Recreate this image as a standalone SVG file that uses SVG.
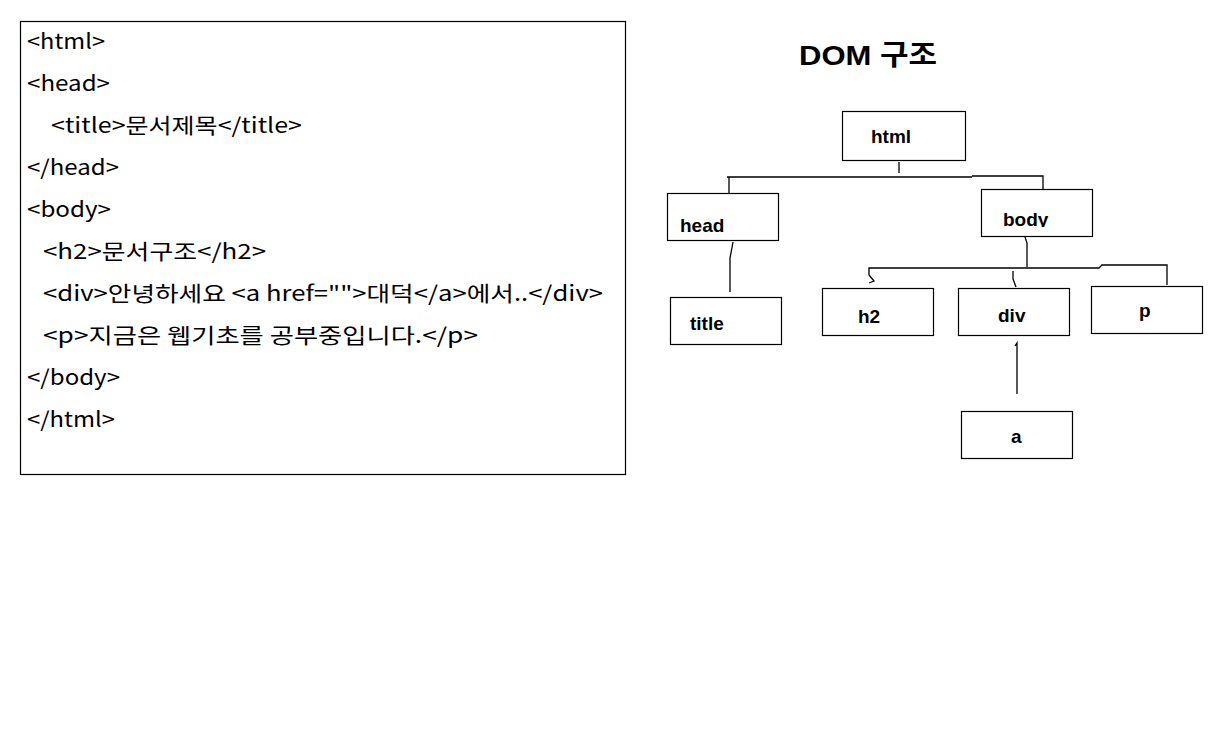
<svg xmlns="http://www.w3.org/2000/svg" width="1217" height="737" viewBox="0 0 1217 737">
<defs>
<style>
.code{font-family:"Noto Sans CJK KR","Noto Sans",sans-serif;font-size:21px;fill:#000}
.box{fill:#fff;stroke:#000;stroke-width:1.2}
.lbl{font-family:"Liberation Sans",Arial,sans-serif;font-weight:bold;font-size:19px;fill:#000}
.ttl{font-family:"Liberation Sans","Noto Sans CJK KR",sans-serif;font-weight:bold;font-size:28px;fill:#000}
.con{fill:none;stroke:#000;stroke-width:1.3}
</style>
<clipPath id="bodyclip"><rect x="981" y="189" width="111" height="38"/></clipPath>
</defs>
<rect width="1217" height="737" fill="#fff"/>
<g id="code">
<rect x="20.5" y="21.5" width="605" height="453" class="box"/>
<text class="code" x="27" y="49" textLength="78" lengthAdjust="spacingAndGlyphs">&lt;html&gt;</text>
<text class="code" x="27" y="91" textLength="83" lengthAdjust="spacingAndGlyphs">&lt;head&gt;</text>
<text class="code" x="51" y="133" textLength="251" lengthAdjust="spacingAndGlyphs">&lt;title&gt;문서제목&lt;/title&gt;</text>
<text class="code" x="27" y="175" textLength="92" lengthAdjust="spacingAndGlyphs">&lt;/head&gt;</text>
<text class="code" x="27" y="217" textLength="84" lengthAdjust="spacingAndGlyphs">&lt;body&gt;</text>
<text class="code" x="43" y="259" textLength="223" lengthAdjust="spacingAndGlyphs">&lt;h2&gt;문서구조&lt;/h2&gt;</text>
<text class="code" x="43" y="301" textLength="560" lengthAdjust="spacingAndGlyphs">&lt;div&gt;안녕하세요 &lt;a href=""&gt;대덕&lt;/a&gt;에서..&lt;/div&gt;</text>
<text class="code" x="43" y="343" textLength="435" lengthAdjust="spacingAndGlyphs">&lt;p&gt;지금은 웹기초를 공부중입니다.&lt;/p&gt;</text>
<text class="code" x="27" y="385" textLength="93" lengthAdjust="spacingAndGlyphs">&lt;/body&gt;</text>
<text class="code" x="27" y="427" textLength="88" lengthAdjust="spacingAndGlyphs">&lt;/html&gt;</text>
</g>
<text class="ttl" x="799" y="65" textLength="138" lengthAdjust="spacingAndGlyphs">DOM 구조</text>
<g id="connectors">
<path class="con" d="M899 162 V173"/>
<path class="con" d="M727 177 H972 M972 176 H1043 V189 M729 177 V193"/>
<path class="con" d="M733 242 L731 253 L730 258 V292"/>
<path class="con" d="M1025 237 L1027 243 V267"/>
<path class="con" d="M869 283 L874 281 L869 275 V268 H1099 L1102 265 H1167 V285"/>
<path class="con" d="M1013 271 V279 L1016 287"/>
<path class="con" d="M1017 394 V343 L1015 346"/>
</g>
<g id="node-html"><rect x="842.5" y="111.5" width="123" height="49" class="box"/><text class="lbl" x="871" y="143">html</text></g>
<g id="node-head"><rect x="667.5" y="193.5" width="111" height="47" class="box"/><text class="lbl" x="680" y="232">head</text></g>
<g id="node-body"><rect x="981.5" y="189.5" width="111" height="47" class="box"/><text class="lbl" x="1003" y="226" clip-path="url(#bodyclip)">body</text></g>
<g id="node-title"><rect x="670.5" y="297.5" width="111" height="47" class="box"/><text class="lbl" x="690" y="330">title</text></g>
<g id="node-h2"><rect x="822.5" y="288.5" width="111" height="47" class="box"/><text class="lbl" x="858" y="323">h2</text></g>
<g id="node-div"><rect x="958.5" y="288.5" width="111" height="47" class="box"/><text class="lbl" x="998" y="322">div</text></g>
<g id="node-p"><rect x="1091.5" y="286.5" width="111" height="47" class="box"/><text class="lbl" x="1139" y="317">p</text></g>
<g id="node-a"><rect x="961.5" y="411.5" width="111" height="47" class="box"/><text class="lbl" x="1011" y="443">a</text></g>
</svg>
